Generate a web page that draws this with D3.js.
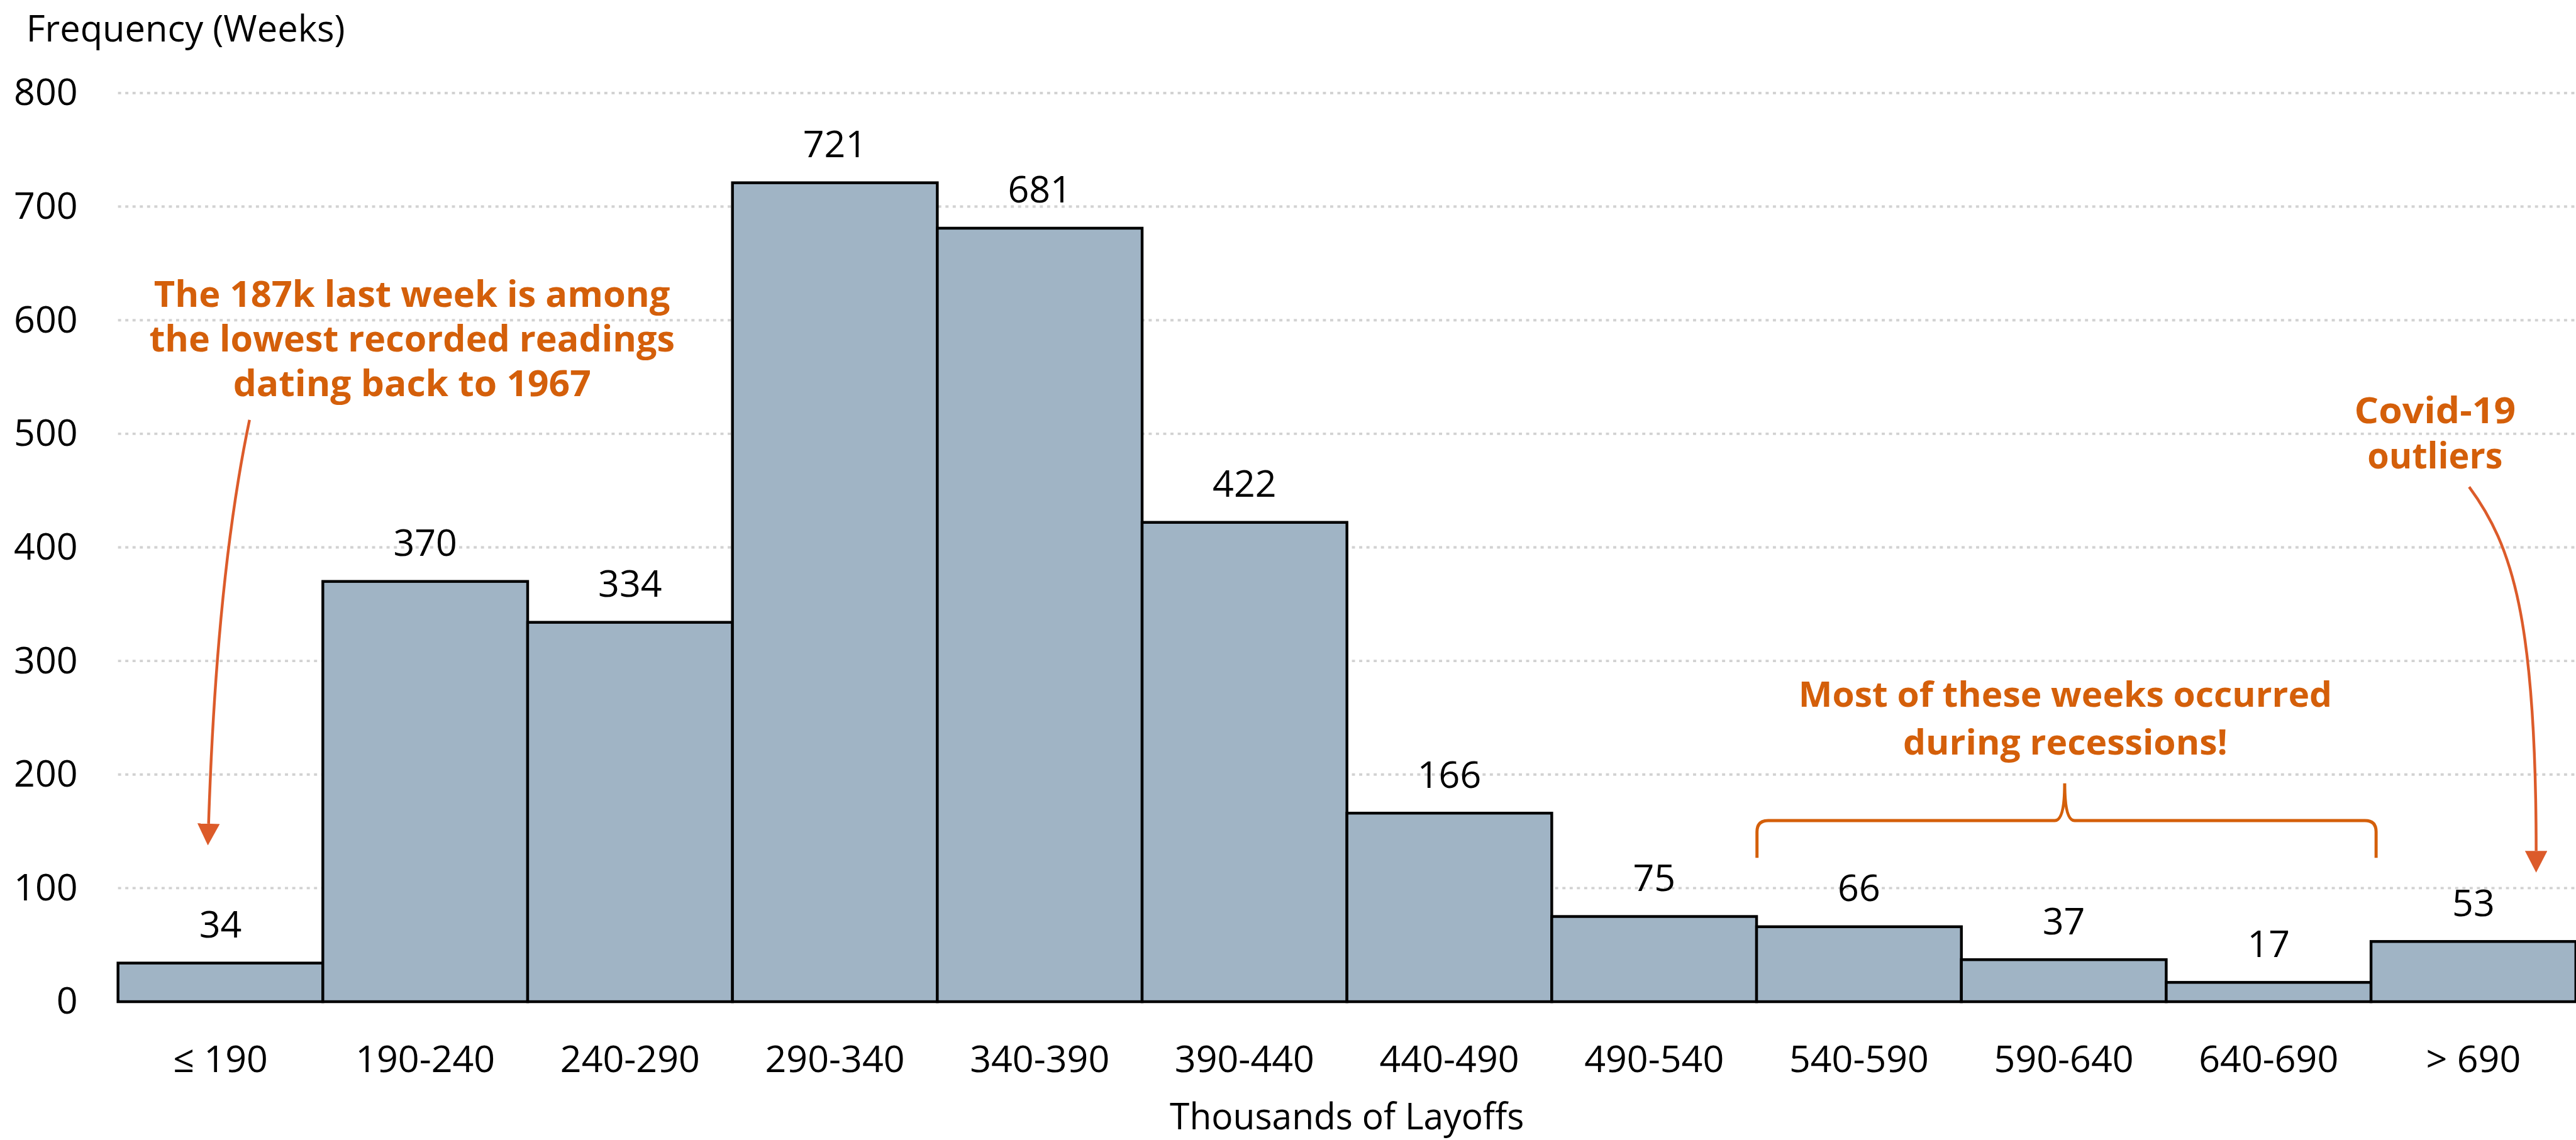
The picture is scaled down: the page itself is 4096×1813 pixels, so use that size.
<!DOCTYPE html>
<html>
<head>
<meta charset="utf-8">
<script src="https://cdn.jsdelivr.net/npm/d3@7"></script>
<style>
  html, body { margin: 0; padding: 0; background: #fff; overflow: hidden; }
  svg { display: block; }
</style>
</head>
<body>
<svg id="chart"></svg>
<script>
// Weekly initial jobless claims, grouped in 50k bins
const bins = ["≤ 190", "190-240", "240-290", "290-340", "340-390", "390-440",
              "440-490", "490-540", "540-590", "590-640", "640-690", "> 690"];
const weeks = [34, 370, 334, 721, 681, 422, 166, 75, 66, 37, 17, 53];
const yTicks = [0, 100, 200, 300, 400, 500, 600, 700, 800];

const yTitle = "Frequency (Weeks)";
const xTitle = "Thousands of Layoffs";
const noteLow = ["The 187k last week is among", "the lowest recorded readings", "dating back to 1967"];
const noteRecession = ["Most of these weeks occurred", "during recessions!"];
const noteCovid = ["Covid-19", "outliers"];

// Drawing is laid out on a 4152 x 1838 canvas and scaled to the window
const W = 4152, H = 1838;
const FONT = "'Open Sans', 'Noto Sans', sans-serif";
const ORANGE = "#D45F0A";
const ARROW = "#DC5B2A";

const svg = d3.select("#chart")
  .attr("width", 4096).attr("height", 1813)
  .attr("viewBox", `0 0 ${W} ${H}`);

const plot = { left: 190, right: 4152, top: 150, bottom: 1615 };

const x = d3.scaleBand().domain(bins).range([plot.left, plot.right]).padding(0);
const y = d3.scaleLinear().domain([0, 800]).range([plot.bottom, plot.top]);

// Dotted horizontal gridlines
svg.append("g")
  .selectAll("line")
  .data(yTicks.filter(d => d > 0))
  .join("line")
  .attr("x1", plot.left).attr("x2", plot.right)
  .attr("y1", d => y(d)).attr("y2", d => y(d))
  .attr("stroke", "#D2D2D2")
  .attr("stroke-width", 4)
  .attr("stroke-dasharray", "5,6.7");

// Y axis labels
const yAxis = svg.append("g")
  .attr("transform", `translate(${plot.left},0)`)
  .call(d3.axisLeft(y).tickValues(yTicks).tickSize(0).tickPadding(65));
yAxis.select(".domain").remove();
yAxis.selectAll("text")
  .attr("font-family", FONT).attr("font-size", 60).attr("fill", "#000");

// Histogram bars
svg.append("g")
  .selectAll("rect")
  .data(weeks)
  .join("rect")
  .attr("x", (d, i) => x(bins[i]))
  .attr("width", x.bandwidth())
  .attr("y", d => y(d))
  .attr("height", d => y(0) - y(d))
  .attr("fill", "#A0B4C5")
  .attr("stroke", "#000")
  .attr("stroke-width", 4.5);

// Bottom axis labels
const xAxis = svg.append("g")
  .attr("transform", `translate(0,${plot.bottom})`)
  .call(d3.axisBottom(x).tickSize(0).tickPadding(71));
xAxis.select(".domain").remove();
xAxis.selectAll("text")
  .attr("font-family", FONT).attr("font-size", 60).attr("fill", "#000");

// Count labels above each bar
svg.append("g")
  .selectAll("text")
  .data(weeks)
  .join("text")
  .attr("x", (d, i) => x(bins[i]) + x.bandwidth() / 2)
  .attr("y", d => y(d) - 41)
  .attr("text-anchor", "middle")
  .attr("font-family", FONT).attr("font-size", 60).attr("fill", "#000")
  .text(d => d);

// Axis titles
svg.append("text")
  .attr("x", 42).attr("y", 67)
  .attr("font-family", FONT).attr("font-size", 60).attr("fill", "#000")
  .attr("textLength", 514).attr("lengthAdjust", "spacingAndGlyphs")
  .text(yTitle);

svg.append("text")
  .attr("x", (plot.left + plot.right) / 2).attr("y", 1821)
  .attr("text-anchor", "middle")
  .attr("font-family", FONT).attr("font-size", 60).attr("fill", "#000")
  .attr("textLength", 571).attr("lengthAdjust", "spacingAndGlyphs")
  .text(xTitle);

// Annotation text blocks, each line fitted to a set width
function note(lines, cx, baselines, widths, size) {
  const g = svg.append("g");
  lines.forEach((t, i) => {
    g.append("text")
      .attr("x", cx).attr("y", baselines[i])
      .attr("text-anchor", "middle")
      .attr("font-family", FONT).attr("font-weight", 700)
      .attr("font-size", size).attr("fill", ORANGE)
      .attr("textLength", widths[i])
      .attr("lengthAdjust", "spacingAndGlyphs")
      .text(t);
  });
}

note(noteLow, 664, [495, 567, 639], [832, 847, 577], 58);
note(noteRecession, 3329, [1140, 1217], [860, 523], 56);
note(noteCovid, 3925, [682, 755], [260, 218], 58);

// Arrowhead marker
svg.append("defs").append("marker")
  .attr("id", "head")
  .attr("viewBox", "0 0 35 36")
  .attr("refX", 0).attr("refY", 18)
  .attr("markerWidth", 35).attr("markerHeight", 36)
  .attr("markerUnits", "userSpaceOnUse")
  .attr("orient", "auto")
  .append("path")
  .attr("d", "M0,0 L35,18 L0,36 Z")
  .attr("fill", ARROW);

// Arrow to the lowest bin
svg.append("path")
  .attr("d", "M402,677 Q349,929 336,1328")
  .attr("fill", "none").attr("stroke", ARROW).attr("stroke-width", 4.5)
  .attr("marker-end", "url(#head)");

// Arrow to the Covid-19 bin
svg.append("path")
  .attr("d", "M3980,785 C4050,880 4088,1000 4088,1372")
  .attr("fill", "none").attr("stroke", ARROW).attr("stroke-width", 4.5)
  .attr("marker-end", "url(#head)");

// Curly bracket over the recession bins
svg.append("path")
  .attr("d", "M2832,1383 V1341 Q2832,1323 2850,1323 H3312 Q3328,1323 3328,1263 Q3328,1323 3344,1323 H3812 Q3830,1323 3830,1341 V1383")
  .attr("fill", "none").attr("stroke", ORANGE).attr("stroke-width", 5);
</script>
</body>
</html>
